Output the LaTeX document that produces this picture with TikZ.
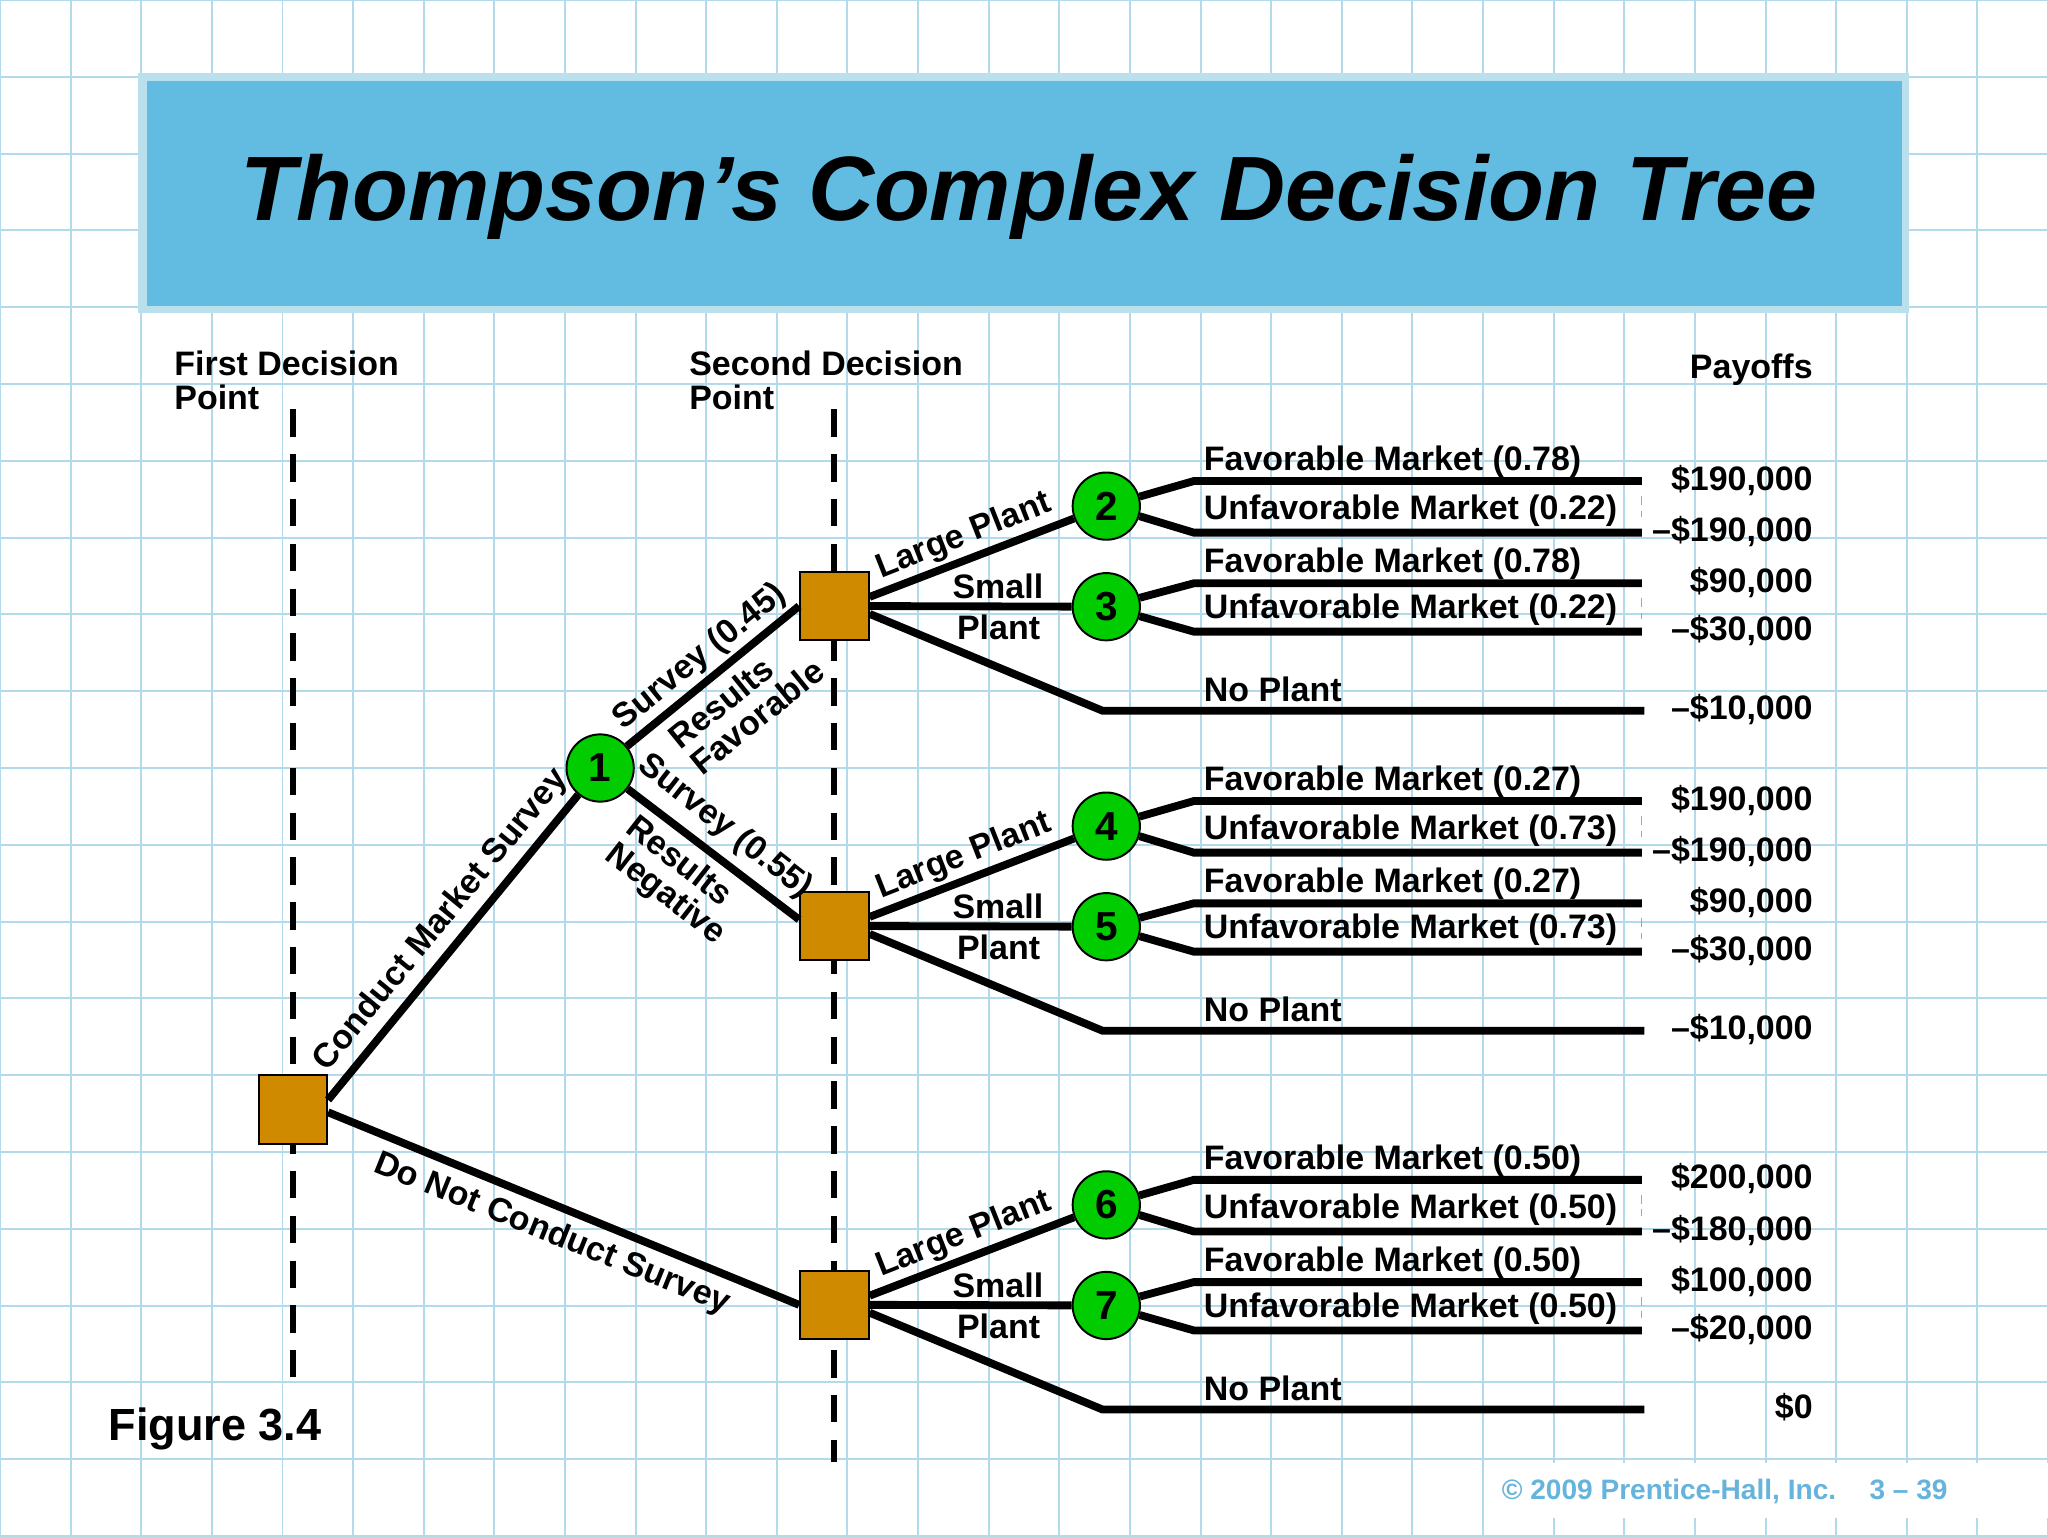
\documentclass[tikz,border=0pt]{standalone}
\usepackage{fontspec}
\setmainfont{Liberation Sans}
\definecolor{gridc}{RGB}{178,218,234}
\definecolor{titlec}{RGB}{98,187,225}
\definecolor{titleb}{RGB}{186,224,238}
\definecolor{sqc}{RGB}{208,138,0}
\definecolor{grc}{RGB}{0,204,0}
\definecolor{footc}{RGB}{102,180,220}
\begin{document}
\begin{tikzpicture}[x=1pt,y=-1pt,
  gridline/.style={draw=gridc, line width=1.5pt},
  guide/.style={draw=black, line width=4.5pt, dash pattern=on 21pt off 13.3pt},
  branch/.style={draw=black, line width=6pt},
  faint/.style={draw=black!35, line width=1pt, dash pattern=on 7pt off 4pt},
  decision/.style={rectangle, minimum size=52.5pt, inner sep=0pt, fill=sqc, draw=black, line width=1.5pt},
  chance/.style={circle, minimum size=51.5pt, inner sep=0pt, fill=grc, draw=black, line width=1.5pt, font=\fontsize{31}{31}\selectfont\bfseries},
  lbl/.style={inner sep=0pt, font=\fontsize{26}{26}\selectfont\bfseries},
  lbltwo/.style={inner sep=0pt, align=left, font=\fontsize{26}{26}\selectfont\bfseries},
  mkt/.style={lbl, anchor=base west},
  pay/.style={lbl, anchor=base east},
  foot/.style={inner sep=0pt, anchor=base west, text=footc, font=\fontsize{21.5}{21.5}\selectfont\bfseries}]

\useasboundingbox (0,0) rectangle (1568,1176);
\fill[white] (0,0) rectangle (1568,1176);

% background grid
\foreach \i in {0,...,29} \draw[gridline] (\i*54.07,0) -- (\i*54.07,1176);
\foreach \j in {0,...,20} \draw[gridline] (0,\j*58.8) -- (1568,\j*58.8);
\fill[white] (1136,1120) rectangle (1568,1162);

% title box
\fill[titleb] (106,55.6) rectangle (1461.8,240);
\fill[titlec] (112.2,62) rectangle (1456,234);
\node[inner sep=0pt, anchor=base, font=\fontsize{70}{70}\selectfont\bfseries\itshape] (title) at (788,168.5) {Thompson’s Complex Decision Tree};

% headings
\node[lbltwo, anchor=north west] (h1) at (133.3,268.5) {First Decision\\Point};
\node[lbltwo, anchor=north west] (h2) at (527.5,268.5) {Second Decision\\Point};
\node[pay] (h3) at (1388,289.7) {Payoffs};

% guide lines
\coordinate (g1t) at (224.2,313.4);
\coordinate (g1b) at (224.2,1054);
\coordinate (g2t) at (638.5,313.4);
\coordinate (g2b) at (638.5,1119);
\draw[guide] (g1t) -- (g1b);
\draw[guide] (g2t) -- (g2b);

% decision nodes
\node[decision] (dA) at (224.2,849.6) {};
\node[decision] (dB1) at (638.8,464) {};
\node[decision] (dB2) at (638.8,709) {};
\node[decision] (dB3) at (638.8,999) {};

% chance nodes
\node[chance] (n1) at (459.5,588) {1};
\node[chance] (n2) at (847,387.5) {2};
\node[chance] (n3) at (847,464.5) {3};
\node[chance] (n4) at (847,632.5) {4};
\node[chance] (n5) at (847,709.5) {5};
\node[chance] (n6) at (847,922.5) {6};
\node[chance] (n7) at (847,999.5) {7};

% first level branches
\draw[branch] ([yshift=7.5pt]dA.east) -- (n1);
\draw[branch] ([yshift=-2pt]dA.east) -- (dB3.west);
\draw[branch] (n1) -- (dB1.west);
\draw[branch] (n1) -- ([yshift=5pt]dB2.west);

% bend / end coordinates, group 1
\coordinate (b2u) at (914,368.3);  \coordinate (e2u) at (1257,368.3);
\coordinate (b2l) at (914,407.8);  \coordinate (e2l) at (1257,407.8);
\coordinate (b3u) at (914,446.6);  \coordinate (e3u) at (1257,446.6);
\coordinate (b3l) at (914,483.6);  \coordinate (e3l) at (1257,483.6);
\coordinate (bn1) at (844,544.1);  \coordinate (en1) at (1259,544.1);
% group 2
\coordinate (b4u) at (914,613.3);  \coordinate (e4u) at (1257,613.3);
\coordinate (b4l) at (914,652.8);  \coordinate (e4l) at (1257,652.8);
\coordinate (b5u) at (914,691.6);  \coordinate (e5u) at (1257,691.6);
\coordinate (b5l) at (914,728.6);  \coordinate (e5l) at (1257,728.6);
\coordinate (bn2) at (844,789.1);  \coordinate (en2) at (1259,789.1);
% group 3
\coordinate (b6u) at (914,903.3);  \coordinate (e6u) at (1257,903.3);
\coordinate (b6l) at (914,942.8);  \coordinate (e6l) at (1257,942.8);
\coordinate (b7u) at (914,981.6);  \coordinate (e7u) at (1257,981.6);
\coordinate (b7l) at (914,1018.6); \coordinate (e7l) at (1257,1018.6);
\coordinate (bn3) at (844,1079.1); \coordinate (en3) at (1259,1079.1);

% second decision branches
\draw[branch] ([yshift=7pt]dB1.east) -- (n2);
\draw[branch] (dB1.east) -- (n3);
\draw[branch] ([yshift=-6pt]dB1.east) -- (bn1) -- (en1);
\draw[branch] ([yshift=7pt]dB2.east) -- (n4);
\draw[branch] (dB2.east) -- (n5);
\draw[branch] ([yshift=-6pt]dB2.east) -- (bn2) -- (en2);
\draw[branch] ([yshift=7pt]dB3.east) -- (n6);
\draw[branch] (dB3.east) -- (n7);
\draw[branch] ([yshift=-6pt]dB3.east) -- (bn3) -- (en3);

% market branches
\draw[branch] (n2) -- (b2u) -- (e2u);
\draw[branch] (n2) -- (b2l) -- (e2l);
\draw[branch] (n3) -- (b3u) -- (e3u);
\draw[branch] (n3) -- (b3l) -- (e3l);
\draw[branch] (n4) -- (b4u) -- (e4u);
\draw[branch] (n4) -- (b4l) -- (e4l);
\draw[branch] (n5) -- (b5u) -- (e5u);
\draw[branch] (n5) -- (b5l) -- (e5l);
\draw[branch] (n6) -- (b6u) -- (e6u);
\draw[branch] (n6) -- (b6l) -- (e6l);
\draw[branch] (n7) -- (b7u) -- (e7u);
\draw[branch] (n7) -- (b7l) -- (e7l);

% faint marks near line ends
\foreach \a/\b in {380/396, 458/474, 625/641, 703/719, 915/931, 993/1009}
  \draw[faint] (1257,\a) -- (1257,\b);

% branch labels, first part
\node[lbl, rotate=50.6] (lcms) at (338,704.5) {Conduct Market Survey};
\node[lbl, rotate=-22] (ldnc) at (422.7,945) {Do Not Conduct Survey};
\node[lbl, rotate=39] (ls45) at (536,503) {Survey (0.45)};
\node[lbltwo, rotate=39] (lrf) at (571.3,538.7) {Results\\Favorable};
\node[lbl, rotate=-38] (ls55) at (555,633) {Survey (0.55)};
\node[lbltwo, rotate=-38] (lrn) at (517,674.8) {Results\\Negative};

% plant labels
\node[lbl, rotate=21.5] (lp1) at (738,410.5) {Large Plant};
\node[lbl, anchor=base] (ls1) at (764,458) {Small};
\node[lbl, anchor=base] (lq1) at (764.5,489.5) {Plant};
\node[lbl, rotate=21.5] (lp2) at (738,655.5) {Large Plant};
\node[lbl, anchor=base] (ls2) at (764,703) {Small};
\node[lbl, anchor=base] (lq2) at (764.5,734.5) {Plant};
\node[lbl, rotate=21.5] (lp3) at (738,945.5) {Large Plant};
\node[lbl, anchor=base] (ls3) at (764,993) {Small};
\node[lbl, anchor=base] (lq3) at (764.5,1024.5) {Plant};

% market labels
\node[mkt] (m1) at (921.5,360.3) {Favorable Market (0.78)};
\node[mkt] (m2) at (921.5,397.8) {Unfavorable Market (0.22)};
\node[mkt] (m3) at (921.5,438.6) {Favorable Market (0.78)};
\node[mkt] (m4) at (921.5,473.6) {Unfavorable Market (0.22)};
\node[mkt] (m5) at (921.5,537.1) {No Plant};
\node[mkt] (m6) at (921.5,605.3) {Favorable Market (0.27)};
\node[mkt] (m7) at (921.5,642.8) {Unfavorable Market (0.73)};
\node[mkt] (m8) at (921.5,683.6) {Favorable Market (0.27)};
\node[mkt] (m9) at (921.5,718.6) {Unfavorable Market (0.73)};
\node[mkt] (m10) at (921.5,782.1) {No Plant};
\node[mkt] (m11) at (921.5,895.3) {Favorable Market (0.50)};
\node[mkt] (m12) at (921.5,932.8) {Unfavorable Market (0.50)};
\node[mkt] (m13) at (921.5,973.6) {Favorable Market (0.50)};
\node[mkt] (m14) at (921.5,1008.6) {Unfavorable Market (0.50)};
\node[mkt] (m15) at (921.5,1072.1) {No Plant};

% payoffs
\node[pay] (p1) at (1388,375.3) {\$190,000};
\node[pay] (p2) at (1388,414.8) {–\$190,000};
\node[pay] (p3) at (1388,453.6) {\$90,000};
\node[pay] (p4) at (1388,490.6) {–\$30,000};
\node[pay] (p5) at (1388,551.1) {–\$10,000};
\node[pay] (p6) at (1388,620.3) {\$190,000};
\node[pay] (p7) at (1388,659.8) {–\$190,000};
\node[pay] (p8) at (1388,698.6) {\$90,000};
\node[pay] (p9) at (1388,735.6) {–\$30,000};
\node[pay] (p10) at (1388,796.1) {–\$10,000};
\node[pay] (p11) at (1388,910.3) {\$200,000};
\node[pay] (p12) at (1388,949.8) {–\$180,000};
\node[pay] (p13) at (1388,988.6) {\$100,000};
\node[pay] (p14) at (1388,1025.6) {–\$20,000};
\node[pay] (p15) at (1388,1086.1) {\$0};

% figure caption and footer
\node[inner sep=0pt, anchor=base west, font=\fontsize{34.5}{34.5}\selectfont\bfseries] (fig) at (83,1103) {Figure 3.4};
\node[foot] (ft1) at (1149.6,1148.4) {© 2009 Prentice-Hall, Inc.};
\node[foot, anchor=base east] (ft2) at (1491.3,1148.4) {3 – 39};
\end{tikzpicture}
\end{document}
